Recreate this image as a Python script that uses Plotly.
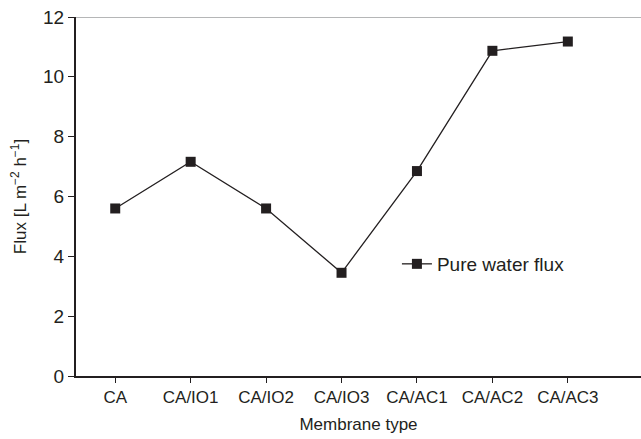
import plotly.graph_objects as go

membranes = ["CA", "CA/IO1", "CA/IO2", "CA/IO3", "CA/AC1", "CA/AC2", "CA/AC3"]
pure_water_flux = [5.6, 7.16, 5.6, 3.45, 6.85, 10.87, 11.18]
y_ticks = [0, 2, 4, 6, 8, 10, 12]

ink = "#231f20"
font_family = "Liberation Sans, Arial, sans-serif"

fig = go.Figure()
fig.add_trace(go.Scatter(
    x=membranes,
    y=pure_water_flux,
    mode="lines+markers",
    name="Pure water flux",
    line=dict(color=ink, width=1.3),
    marker=dict(symbol="square", size=10, color=ink),
))

fig.update_layout(
    width=641,
    height=439,
    margin=dict(l=76, r=0, t=17, b=63),
    paper_bgcolor="white",
    plot_bgcolor="white",
    font=dict(family=font_family, size=17, color=ink),
    showlegend=True,
    legend=dict(
        x=0.568, y=0.312, xanchor="left", yanchor="middle",
        bgcolor="rgba(0,0,0,0)", font=dict(size=19, color=ink),
    ),
    xaxis=dict(
        type="category",
        range=[-0.52, 6.97],
        showgrid=False, zeroline=False,
        showline=True, linecolor=ink, linewidth=2,
        ticks="outside", ticklen=5, tickwidth=1, tickcolor=ink,
        tickfont=dict(size=17),
        title=dict(text="Membrane type", font=dict(size=17), standoff=12),
    ),
    yaxis=dict(
        range=[0, 12],
        tickvals=y_ticks,
        showgrid=False, zeroline=False,
        showline=True, linecolor=ink, linewidth=2,
        ticks="outside", ticklen=6, tickwidth=1, tickcolor=ink,
        tickfont=dict(size=19),
        title=dict(text="Flux [L m<sup>−2</sup> h<sup>−1</sup>]", font=dict(size=17), standoff=12),
    ),
)

# thin frame line along the top of the plotting area
fig.add_shape(type="line", xref="paper", yref="y", x0=0, x1=1, y0=12, y1=12,
              line=dict(color="#6d6e70", width=1.2))

fig.write_html("out.html")
